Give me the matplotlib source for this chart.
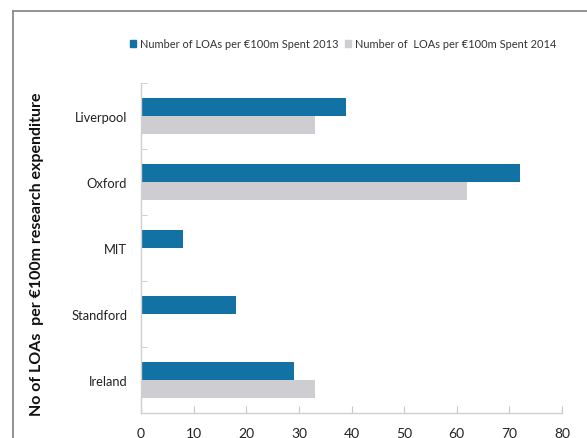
import matplotlib
matplotlib.use("Agg")
import numpy as np
import matplotlib.pyplot as plt
from matplotlib.lines import Line2D
from matplotlib.patches import Patch

# Data
universities = ["Liverpool", "Oxford", "MIT", "Standford", "Ireland"]
loas_2013 = [39, 72, 8, 18, 29]
loas_2014 = [33, 62, 0, 0, 33]
xticks = [0, 10, 20, 30, 40, 50, 60, 70, 80]
series_names = ["Number of LOAs per \u20ac100m Spent 2013",
                "Number of  LOAs per \u20ac100m Spent 2014"]

blue = "#1172a3"
grey = "#cdcdd2"

plt.rcParams['font.family'] = ['Lato', 'DejaVu Sans']

fig = plt.figure(figsize=(5.87, 4.39), dpi=100)
ax = fig.add_axes([141/587, 1 - 414/439, 421/587, 330/439])

pos = np.arange(len(universities))
h = 0.28
ax.barh(pos - h/2, loas_2013, height=h, color=blue)
ax.barh(pos + h/2, loas_2014, height=h, color=grey)

ax.set_xlim(0, 80)
ax.set_ylim(len(universities) - 0.5, -0.5)

# category labels in the middle, tick marks at the boundaries
ax.set_yticks(pos)
ax.set_yticklabels(universities, fontsize=9.3, color="#222222")
ax.tick_params(axis='y', which='major', length=0, pad=10)
ax.set_yticks(np.arange(-0.5, len(universities)), minor=True)
ax.tick_params(axis='y', which='minor', direction='in', length=4,
               color="#c8c8c8")

ax.set_xticks(xticks)
ax.tick_params(axis='x', direction='in', length=5, color="#c8c8c8",
               labelsize=10, labelcolor="#222222", pad=10)

for s in ['top', 'right']:
    ax.spines[s].set_visible(False)
for s in ['left', 'bottom']:
    ax.spines[s].set_color("#d0d0d0")
    ax.spines[s].set_linewidth(1.0)

fig.text(37/587, 1 - 254/439, "No of LOAs  per \u20ac100m research expenditure",
         rotation=90, ha='center', va='center', fontsize=11.5,
         fontweight='bold', color="#111111")

# Legend along the top
handles = [Patch(color=blue), Patch(color=grey)]
fig.legend(handles, series_names, loc='center', ncol=2,
           bbox_to_anchor=(343/587, 1 - 45/439), frameon=False,
           fontsize=7.9, handlelength=0.6, handleheight=0.6,
           handletextpad=0.3, columnspacing=0.6, labelcolor="#333333")

# Outer chart frame (only left and top edges are inside the crop)
fx, fy = 13/587, 1 - 12/439
fig.add_artist(Line2D([fx, fx], [-0.1, fy], transform=fig.transFigure,
                      color="#8a8a8a", lw=1.3))
fig.add_artist(Line2D([fx, 1.1], [fy, fy], transform=fig.transFigure,
                      color="#8a8a8a", lw=1.3))

fig.savefig("out.png", dpi=100)
